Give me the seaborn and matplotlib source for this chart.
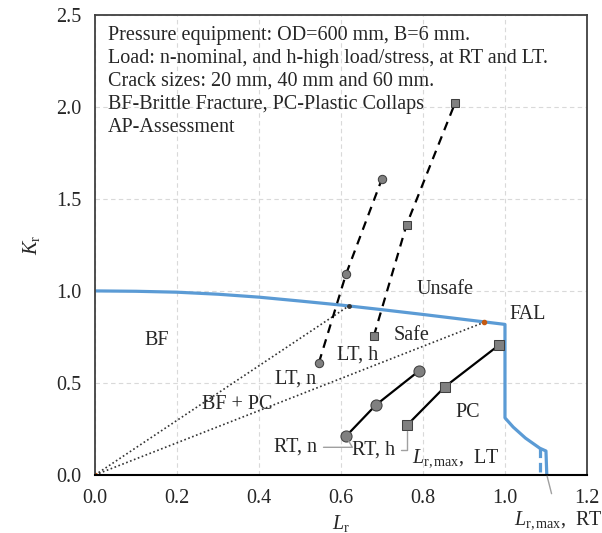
import numpy as np
import pandas as pd
import seaborn as sns
import matplotlib.pyplot as plt

# failure assessment line (FAL)
fal_lr = [0.0, 0.1, 0.2, 0.3, 0.4, 0.5, 0.6, 0.7, 0.8, 0.9, 1.0, 1.0, 1.02, 1.05, 1.085, 1.10, 1.102]
fal_kr = [1.0, 0.998, 0.993, 0.982, 0.966, 0.945, 0.923, 0.898, 0.872, 0.845, 0.818, 0.31, 0.26, 0.20, 0.145, 0.13, 0.0]
# Lr,max at LT (dashed end)
lt_max_lr = [1.085, 1.085]
lt_max_kr = [0.145, 0.0]

# assessment points
lt_n_lr = [0.546, 0.612, 0.70]
lt_n_kr = [0.61, 1.09, 1.61]
lt_h_lr = [0.68, 0.76, 0.878]
lt_h_kr = [0.755, 1.36, 2.02]
rt_n_lr = [0.612, 0.685, 0.79]
rt_n_kr = [0.21, 0.38, 0.565]
rt_h_lr = [0.761, 0.854, 0.985]
rt_h_kr = [0.27, 0.48, 0.705]

# load lines from origin
load_lr = [[0.0, 0.62], [0.0, 0.95]]
load_kr = [[0.0, 0.92], [0.0, 0.83]]

info = ["Pressure equipment: OD=600 mm, B=6 mm.",
        "Load: n-nominal, and h-high load/stress, at RT and LT.",
        "Crack sizes: 20 mm, 40 mm and 60 mm.",
        "BF-Brittle Fracture, PC-Plastic Collaps",
        "AP-Assessment"]

sns.set_theme(style="whitegrid")
plt.rcParams['font.family'] = ['Liberation Serif', 'DejaVu Serif']
plt.rcParams['mathtext.fontset'] = 'custom'
plt.rcParams['mathtext.rm'] = 'Liberation Serif'
plt.rcParams['mathtext.it'] = 'Liberation Serif:italic'

fig = plt.figure(figsize=(6.02, 5.33), dpi=100)
ax = fig.add_axes([0.158, 0.109, 0.817, 0.863])

blue = "#5B9BD5"
fal = pd.DataFrame({"Lr": fal_lr, "Kr": fal_kr})
sns.lineplot(data=fal, x="Lr", y="Kr", sort=False, estimator=None, color=blue, lw=2.3, ax=ax)
ax.plot(lt_max_lr, lt_max_kr, color=blue, lw=2.3, ls=(0, (3, 1.5)))

for xs, ys in zip(load_lr, load_kr):
    ax.plot(xs, ys, color="#333333", lw=1.2, ls=(0, (1, 1.5)))
ax.plot([0.0, 0.95], [0.0, 0.83], ls="none", marker="o", ms=3, color="#C55A11")
ax.plot([0.62], [0.92], ls="none", marker="o", ms=2.5, color="#333333")

mk = dict(sort=False, estimator=None, color="black", lw=1.6, ax=ax,
          markerfacecolor="#808080", markeredgecolor="#404040")
sns.lineplot(x=lt_n_lr, y=lt_n_kr, linestyle=(0, (4, 3)), marker="o", ms=6, **mk)
sns.lineplot(x=lt_h_lr, y=lt_h_kr, linestyle=(0, (4, 3)), marker="s", ms=6, **mk)
sns.lineplot(x=rt_n_lr, y=rt_n_kr, marker="o", ms=8, **mk)
sns.lineplot(x=rt_h_lr, y=rt_h_kr, marker="s", ms=7, **mk)

fs = 14.5
ax.text(0.855, 1.01, "Unsafe", fontsize=fs, ha="center", va="center")
ax.text(1.056, 0.87, "FAL", fontsize=fs, ha="center", va="center")
ax.text(0.773, 0.76, "Safe", fontsize=fs, ha="center", va="center")
ax.text(0.64, 0.65, "LT, h", fontsize=fs, ha="center", va="center")
ax.text(0.49, 0.52, "LT, n", fontsize=fs, ha="center", va="center")
ax.text(0.346, 0.38, "BF + PC", fontsize=fs, ha="center", va="center")
ax.text(0.15, 0.73, "BF", fontsize=fs, ha="center", va="center")
ax.text(0.91, 0.34, "PC", fontsize=fs, ha="center", va="center")
ax.text(0.88, 0.09, r"$L_{\mathrm{r,max}}$,  LT", fontsize=fs, ha="center", va="center")

lead = dict(arrowstyle="-", color="#A0A0A0", lw=1, shrinkA=2, shrinkB=4)
ax.annotate("RT, n", xy=(rt_n_lr[0], rt_n_kr[0]), xytext=(0.49, 0.15), fontsize=fs,
            ha="center", va="center",
            arrowprops=dict(lead, connectionstyle="angle,angleA=0,angleB=-60,rad=0"))
ax.annotate("RT, h", xy=(rt_h_lr[0], rt_h_kr[0]), xytext=(0.68, 0.135), fontsize=fs,
            ha="center", va="center",
            arrowprops=dict(lead, connectionstyle="angle,angleA=0,angleB=90,rad=0"))
ax.annotate(r"$L_{\mathrm{r,max}}$,  RT", xy=(1.102, 0.0), xytext=(1.13, -0.245),
            fontsize=fs, ha="center", va="center", annotation_clip=False,
            arrowprops=dict(lead, shrinkA=9, shrinkB=1))

ax.text(0.026, 0.976, "\n".join(info), transform=ax.transAxes, fontsize=fs,
        ha="left", va="top", linespacing=1.28)

ax.set_xlim(0, 1.2)
ax.set_ylim(0, 2.5)
ax.set_xticks(np.arange(0, 1.21, 0.2))
ax.set_yticks(np.arange(0, 2.51, 0.5))
ax.xaxis.set_major_formatter(plt.FormatStrFormatter("%.1f"))
ax.yaxis.set_major_formatter(plt.FormatStrFormatter("%.1f"))
ax.tick_params(labelsize=fs, length=0, pad=10)
ax.grid(True, color="#D9D9D9", ls=(0, (4, 3)), lw=0.8)
ax.set_xlabel(r"$L_{\mathrm{r}}$", fontsize=fs, labelpad=4)
ax.set_ylabel(r"$K_{\mathrm{r}}$", fontsize=fs, labelpad=10)
for side in ["top", "right", "left"]:
    ax.spines[side].set_color("#404040")
    ax.spines[side].set_linewidth(1.3)
ax.spines["bottom"].set_color("black")
ax.spines["bottom"].set_linewidth(1.5)

fig.savefig("out.png", dpi=100)
